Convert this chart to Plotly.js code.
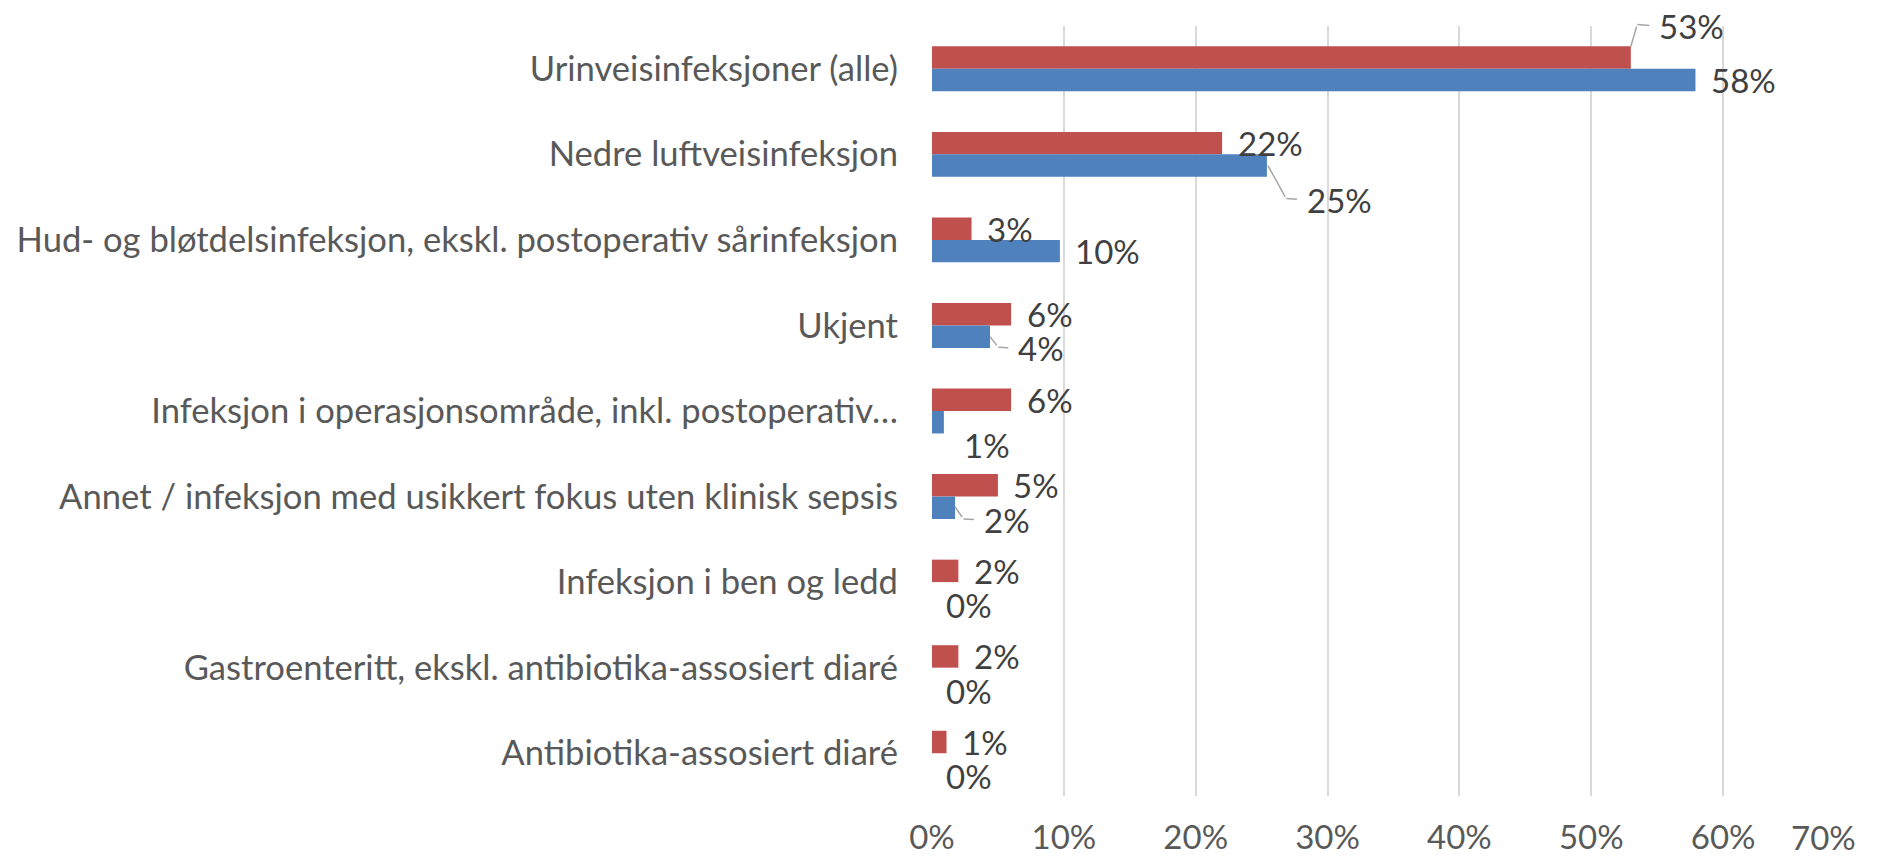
<!DOCTYPE html>
<html>
<head>
<meta charset="utf-8">
<script src="https://cdn.plot.ly/plotly-3.0.1.min.js"></script>
<style>
  html, body { margin: 0; padding: 0; background: #ffffff; }
  #chart { width: 1891px; height: 858px; }
</style>
</head>
<body>
<div id="chart"></div>
<script>
// ---- data ----
const categories = [
  "Urinveisinfeksjoner (alle)",
  "Nedre luftveisinfeksjon",
  "Hud- og bløtdelsinfeksjon, ekskl. postoperativ sårinfeksjon",
  "Ukjent",
  "Infeksjon i operasjonsområde, inkl. postoperativ…",
  "Annet / infeksjon med usikkert fokus uten klinisk sepsis",
  "Infeksjon i ben og ledd",
  "Gastroenteritt, ekskl. antibiotika-assosiert diaré",
  "Antibiotika-assosiert diaré"
];
const seriesRed  = [0.530, 0.220, 0.030, 0.060, 0.060, 0.050, 0.020, 0.020, 0.011];
const seriesBlue = [0.579, 0.254, 0.097, 0.044, 0.009, 0.0175, 0.000, 0.000, 0.000];
const xTickValues = [0, 0.1, 0.2, 0.3, 0.4, 0.5, 0.6, 0.7];
const xTickLabels = ["0%", "10%", "20%", "30%", "40%", "50%", "60%", "70%"];

// ---- style / placement (pixels relative to bar end centre) ----
const FONT = "Lato, 'Open Sans', sans-serif";
const FS = 33;
const CAT_FS = 34.6;
const RED = "#C0504D";
const BLUE = "#4F81BD";
const BARGAP = 0.475;
const X_LABEL_STANDOFF = 19;
const DEFAULT_PLACE = { dx: 16.5, dy: 0 };
const placeRed = [
  { dx: 28.5, dy: -31.5, tip: [0, -11], bend: [6.4, -33] },
  null, null, null, null, null, null, null, null
];
const placeBlue = [
  null,
  { dx: 40, dy: 34, tip: [1, 0], bend: [19.3, 33] },
  null,
  { dx: 28.3, dy: 11.3, tip: [0, 0], bend: [8.3, 10.6] },
  { dx: 21.3, dy: 23 },
  { dx: 29, dy: 12, tip: [0, -1], bend: [8.3, 11.2] },
  { dx: 15.4, dy: 12 },
  { dx: 15.4, dy: 12 },
  { dx: 15.4, dy: 12 }
];

const half = (1 - BARGAP) / 4; // centre offset of each bar in category units

const traces = [
  {
    type: "bar", orientation: "h", name: "Serie 1",
    y: categories, x: seriesRed,
    marker: { color: RED },
    hoverinfo: "skip"
  },
  {
    type: "bar", orientation: "h", name: "Serie 2",
    y: categories, x: seriesBlue,
    marker: { color: BLUE },
    hoverinfo: "skip"
  }
];

const annotations = [];
function addLabels(values, places, offset) {
  values.forEach((v, i) => {
    const p = places[i] || DEFAULT_PLACE;
    const yv = i + offset;
    const txt = Math.round(v * 100) + "%";
    if (p.bend) {
      // diagonal leader segment
      annotations.push({
        x: v, y: yv, xref: "x", yref: "y",
        xshift: p.tip[0], yshift: -p.tip[1],
        text: " ", showarrow: true, arrowhead: 0, arrowwidth: 1.5,
        arrowcolor: "#a6a6a6", standoff: 0, startstandoff: 0,
        axref: "pixel", ayref: "pixel",
        ax: p.bend[0] - p.tip[0], ay: p.bend[1] - p.tip[1],
        font: { size: 1 }
      });
      // horizontal leader segment + label
      annotations.push({
        x: v, y: yv, xref: "x", yref: "y",
        xshift: p.bend[0], yshift: -p.bend[1],
        text: txt, showarrow: true, arrowhead: 0, arrowwidth: 1.5,
        arrowcolor: "#a6a6a6", standoff: 0, startstandoff: 8,
        axref: "pixel", ayref: "pixel",
        ax: p.dx - p.bend[0] - 2, ay: p.dy - p.bend[1],
        xanchor: "left", yanchor: "middle",
        font: { family: FONT, size: FS, color: "#404040" }
      });
    } else {
      annotations.push({
        x: v, y: yv, xref: "x", yref: "y",
        xshift: p.dx - 3, yshift: -p.dy,
        text: txt, showarrow: false,
        xanchor: "left", yanchor: "middle",
        font: { family: FONT, size: FS, color: "#404040" }
      });
    }
  });
}
addLabels(seriesRed, placeRed, -half);
addLabels(seriesBlue, placeBlue, half);

// last x tick label is pulled inside the chart (as in the reference)
const lastIdx = xTickValues.length - 1;
const shownTickText = xTickLabels.map((t, i) => (i === lastIdx ? "" : t));
annotations.push({
  x: xTickValues[lastIdx], y: 0, xref: "x", yref: "paper",
  xanchor: "right", yanchor: "middle",
  xshift: 3, yshift: -40.5,
  text: xTickLabels[lastIdx], showarrow: false,
  font: { family: FONT, size: FS, color: "#595959" }
});

const layout = {
  width: 1891, height: 858,
  margin: { l: 932, r: 36, t: 26, b: 62, pad: 0 },
  paper_bgcolor: "#ffffff", plot_bgcolor: "#ffffff",
  barmode: "group", bargap: BARGAP, bargroupgap: 0,
  showlegend: false,
  font: { family: FONT, size: FS, color: "#595959" },
  xaxis: {
    range: [0, 0.7],
    tickvals: xTickValues, ticktext: shownTickText,
    showgrid: true, gridcolor: "#d9d9d9", gridwidth: 2,
    zeroline: false, showline: false, ticks: "",
    ticklabelstandoff: X_LABEL_STANDOFF,
    tickfont: { family: FONT, size: FS, color: "#595959" },
    fixedrange: true
  },
  yaxis: {
    type: "category",
    autorange: "reversed",
    showgrid: false, zeroline: false, showline: false, ticks: "",
    ticklabelstandoff: 33,
    tickfont: { family: FONT, size: CAT_FS, color: "#595959" },
    fixedrange: true
  },
  annotations: annotations
};

Plotly.newPlot("chart", traces, layout, { displayModeBar: false, staticPlot: true });
</script>
</body>
</html>
